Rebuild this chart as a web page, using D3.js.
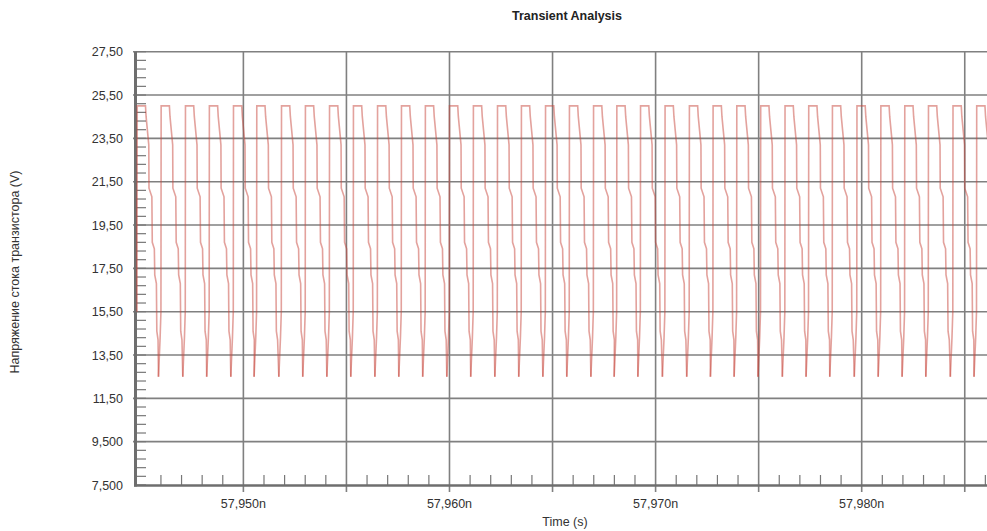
<!DOCTYPE html>
<html>
<head>
<meta charset="utf-8">
<script src="https://cdn.jsdelivr.net/npm/d3@7"></script>
<style>
  body { margin: 0; background: #fff; }
  text { font-family: "Liberation Sans", Arial, sans-serif; }
</style>
</head>
<body>
<div id="chart"></div>
<script>
// axis ticks and labels
const yTicks = [7.5, 9.5, 11.5, 13.5, 15.5, 17.5, 19.5, 21.5, 23.5, 25.5, 27.5];
const yTickLabels = ["7,500", "9,500", "11,50", "13,50", "15,50", "17,50", "19,50", "21,50", "23,50", "25,50", "27,50"];
const xTicks = [57950, 57960, 57970, 57980];
const xTickLabels = ["57,950n", "57,960n", "57,970n", "57,980n"];
const xGrid = [57950, 57955, 57960, 57965, 57970, 57975, 57980, 57985];

// minimum (start of rise) of every pulse, ns
const riseTimes = [
  57944.72, 57945.88, 57947.06, 57948.22, 57949.39, 57950.52, 57951.72, 57952.88,
  57954.05, 57955.21, 57956.38, 57957.54, 57958.70, 57959.87, 57961.03, 57962.20,
  57963.36, 57964.53, 57965.69, 57966.86, 57967.99, 57969.14, 57970.33, 57971.51,
  57972.66, 57973.81, 57974.97, 57976.15, 57977.30, 57978.45, 57979.64, 57980.80,
  57981.96, 57983.11, 57984.30, 57985.45
];
// shape of one pulse: time after the minimum (ns) and voltage
const pulseDt = [0.00, 0.08, 0.12, 0.13, 0.53, 0.56, 0.69, 0.70, 0.84, 0.86, 0.96, 0.98, 1.06, 1.08, 1.14];
const pulseV  = [12.5, 14.3, 15.5, 25.0, 25.0, 24.5, 23.2, 21.2, 20.8, 18.7, 18.4, 17.2, 16.8, 14.6, 14.2];

const width = 987, height = 531;
const svg = d3.select("#chart").append("svg")
  .attr("width", width)
  .attr("height", height);

const x = d3.scaleLinear().domain([57944.79, 57986.71]).range([136, 1000]);
const y = d3.scaleLinear().domain([7.5, 27.5]).range([485, 51.7]);

svg.append("defs").append("clipPath").attr("id", "plot")
  .append("rect").attr("x", 136).attr("y", 40).attr("width", 900).attr("height", 445);

// gridlines
svg.append("g")
  .selectAll("line")
  .data(yTicks.slice(1))
  .enter()
  .append("line")
  .attr("x1", 133).attr("x2", width)
  .attr("y1", d => y(d)).attr("y2", d => y(d))
  .attr("stroke", "#808080")
  .attr("stroke-width", 1.6);

svg.append("g")
  .selectAll("line")
  .data(xGrid)
  .enter()
  .append("line")
  .attr("x1", d => x(d)).attr("x2", d => x(d))
  .attr("y1", y(27.5)).attr("y2", 492)
  .attr("stroke", "#808080")
  .attr("stroke-width", 1.6);

// minor ticks on the left axis
svg.append("g")
  .selectAll("line")
  .data(d3.range(0, 51).map(i => 7.5 + i * 0.4))
  .enter()
  .append("line")
  .attr("x1", 136).attr("x2", 146)
  .attr("y1", d => y(d)).attr("y2", d => y(d))
  .attr("stroke", "#777")
  .attr("stroke-width", 1.2);

// minor ticks on the bottom axis
svg.append("g")
  .selectAll("line")
  .data(d3.range(57946, 57987).filter(d => d % 5 !== 0))
  .enter()
  .append("line")
  .attr("x1", d => x(d)).attr("x2", d => x(d))
  .attr("y1", 475).attr("y2", 485)
  .attr("stroke", "#777")
  .attr("stroke-width", 1.2);

// axis lines
svg.append("line")
  .attr("x1", 135.5).attr("x2", 135.5)
  .attr("y1", y(27.5)).attr("y2", 486.5)
  .attr("stroke", "#6e6e6e").attr("stroke-width", 3);
svg.append("line")
  .attr("x1", 134).attr("x2", width)
  .attr("y1", 485.5).attr("y2", 485.5)
  .attr("stroke", "#6e6e6e").attr("stroke-width", 2.5);

// the trace, one path per pulse so overlaps get darker
let pulses = riseTimes.map((t, i) => {
  let pts = pulseDt.map((dt, j) => [t + dt, pulseV[j]]);
  if (i < riseTimes.length - 1) pts.push([riseTimes[i + 1], pulseV[0]]);
  return pts;
});
pulses[0] = [[57944.80, 20.8]].concat(pulses[0].filter(p => p[0] > 57944.80));

let line = d3.line().x(d => x(d[0])).y(d => y(d[1]));

svg.append("g")
  .attr("clip-path", "url(#plot)")
  .selectAll("path")
  .data(pulses)
  .enter()
  .append("path")
  .attr("d", line)
  .attr("fill", "none")
  .attr("stroke", "#c8453c")
  .attr("stroke-opacity", 0.5)
  .attr("stroke-width", 1.6);

// tick labels
svg.append("g")
  .selectAll("text")
  .data(yTicks)
  .enter()
  .append("text")
  .attr("x", 123)
  .attr("y", d => y(d) + 4.5)
  .attr("text-anchor", "end")
  .attr("font-size", 12.5)
  .attr("fill", "#333")
  .text((d, i) => yTickLabels[i]);

svg.append("g")
  .selectAll("text")
  .data(xTicks)
  .enter()
  .append("text")
  .attr("x", d => x(d))
  .attr("y", 508)
  .attr("text-anchor", "middle")
  .attr("font-size", 12.5)
  .attr("fill", "#333")
  .text((d, i) => xTickLabels[i]);

// titles
svg.append("text")
  .attr("x", 567).attr("y", 20)
  .attr("text-anchor", "middle")
  .attr("font-size", 12.5)
  .attr("font-weight", "bold")
  .attr("fill", "#222")
  .text("Transient Analysis");

svg.append("text")
  .attr("x", 565).attr("y", 526)
  .attr("text-anchor", "middle")
  .attr("font-size", 12.5)
  .attr("fill", "#333")
  .text("Time (s)");

svg.append("text")
  .attr("transform", "translate(19,272) rotate(-90)")
  .attr("text-anchor", "middle")
  .attr("font-size", 12.5)
  .attr("fill", "#333")
  .text("Напряжение стока транзистора (V)");
</script>
</body>
</html>
